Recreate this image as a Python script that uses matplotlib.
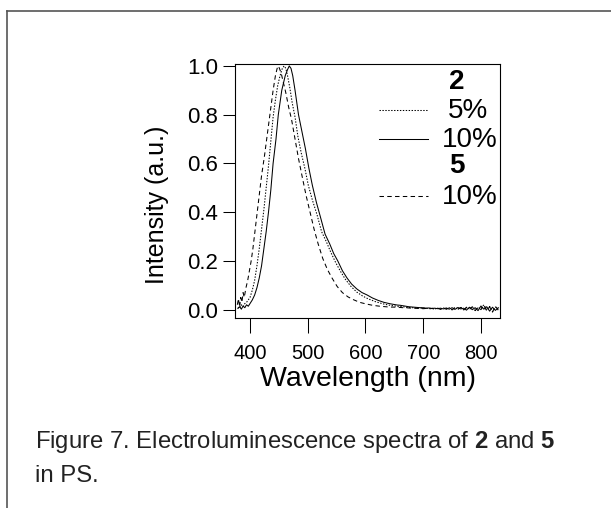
import matplotlib
matplotlib.use("Agg")
import matplotlib.pyplot as plt
from matplotlib.lines import Line2D

plt.rcParams['font.family'] = ['Liberation Sans', 'DejaVu Sans']
plt.rcParams['mathtext.fontset'] = 'custom'
plt.rcParams['mathtext.rm'] = 'Liberation Sans'
plt.rcParams['mathtext.bf'] = 'Liberation Sans:bold'
plt.rcParams['lines.scale_dashes'] = False

# compound 2, 10 % in PS (solid)
wl_2_10 = [379, 382, 385, 388, 391, 394, 397, 400, 404, 408, 412, 416, 420, 424, 428, 432,
           436, 440, 445, 449, 455, 461, 465, 468, 471, 474, 478, 484, 490, 496, 502, 508,
           515, 522, 530, 538, 545, 552, 560, 568, 576, 585, 594, 603, 612, 622, 632, 643, 655]
el_2_10 = [0.005, 0.012, 0.002, 0.015, 0.008, 0.020, 0.014, 0.025, 0.04, 0.06, 0.09, 0.13,
           0.18, 0.25, 0.32, 0.40, 0.49, 0.60, 0.70, 0.80, 0.90, 0.96, 0.985, 1.0, 0.99, 0.96,
           0.90, 0.80, 0.73, 0.66, 0.58, 0.51, 0.44, 0.38, 0.31, 0.27, 0.23, 0.20, 0.16, 0.13,
           0.105, 0.085, 0.07, 0.06, 0.048, 0.038, 0.03, 0.024, 0.019]

# compound 2, 5 % in PS (dotted)
wl_2_5 = [379, 382, 385, 388, 391, 394, 397, 400, 404, 408, 412, 416, 420, 424, 428, 432,
          436, 440, 444, 448, 452, 456, 459, 462, 465, 469, 473, 478, 483, 489, 495, 501,
          508, 516, 524, 532, 540, 548, 556, 565, 575, 585, 595, 605, 617, 630, 642, 655]
el_2_5 = [0.01, 0.005, 0.02, 0.012, 0.025, 0.03, 0.04, 0.05, 0.08, 0.12, 0.18, 0.25, 0.33,
          0.41, 0.50, 0.59, 0.69, 0.79, 0.86, 0.92, 0.96, 0.99, 1.0, 0.99, 0.96, 0.91, 0.85,
          0.79, 0.71, 0.64, 0.58, 0.51, 0.45, 0.39, 0.32, 0.28, 0.235, 0.195, 0.16, 0.125,
          0.095, 0.072, 0.056, 0.044, 0.033, 0.024, 0.018, 0.014]

# compound 5, 10 % in PS (dashed)
wl_5_10 = [378, 380, 382, 384, 386, 388, 390, 393, 396, 399, 402, 405, 408, 412, 416, 420,
           425, 430, 435, 440, 444, 447, 449, 451, 454, 458, 462, 467, 472, 478, 484, 490,
           497, 504, 511, 518, 526, 534, 542, 551, 560, 570, 580, 590, 600, 612, 625, 640, 655]
el_5_10 = [0.02, 0.045, 0.01, 0.05, 0.03, 0.07, 0.05, 0.09, 0.12, 0.16, 0.2, 0.25, 0.31,
           0.39, 0.47, 0.55, 0.63, 0.72, 0.81, 0.90, 0.96, 0.99, 1.0, 0.99, 0.97, 0.93, 0.89,
           0.83, 0.78, 0.70, 0.62, 0.55, 0.47, 0.40, 0.33, 0.27, 0.21, 0.165, 0.13, 0.095,
           0.07, 0.052, 0.04, 0.03, 0.024, 0.018, 0.014, 0.011, 0.01]

# noisy long-wavelength tails
wl_tail = [660, 665, 670, 675, 680, 685, 690, 695, 700, 705, 710, 715, 720, 725, 730, 735,
           740, 745, 750, 755, 760, 765, 770, 775, 780, 785, 790, 795, 800, 805, 810, 815,
           820, 825, 830]
tail_2_10 = [0.018, 0.016, 0.014, 0.012, 0.011, 0.010, 0.009, 0.008, 0.008, 0.006, 0.007,
             0.005, 0.006, 0.004, 0.006, 0.003, 0.007, 0.002, 0.008, 0.001, 0.009, 0.003,
             0.006, -0.002, 0.010, 0.000, 0.008, -0.004, 0.015, 0.002, 0.012, -0.006, 0.010,
             -0.003, 0.008]
tail_2_5 = [0.013, 0.012, 0.010, 0.009, 0.008, 0.008, 0.006, 0.007, 0.005, 0.006, 0.004,
            0.006, 0.003, 0.006, 0.002, 0.007, 0.003, 0.008, 0.000, 0.009, 0.002, 0.010,
            -0.001, 0.008, 0.003, 0.011, -0.003, 0.009, 0.004, 0.020, -0.002, 0.013, -0.008,
            0.011, 0.002]
tail_5_10 = [0.009, 0.008, 0.008, 0.007, 0.006, 0.006, 0.005, 0.005, 0.004, 0.005, 0.003,
             0.005, 0.002, 0.006, 0.001, 0.006, 0.002, 0.007, -0.001, 0.008, 0.001, 0.009,
             -0.002, 0.010, 0.001, 0.012, -0.004, 0.010, 0.000, 0.018, -0.005, 0.012, -0.010,
             0.014, -0.002]

xticks = [400, 500, 600, 700, 800]
yticks = [0.0, 0.2, 0.4, 0.6, 0.8, 1.0]

W, H = 611, 508
fig = plt.figure(figsize=(W / 100, H / 100), dpi=100)
fig.patch.set_facecolor('white')

# page frame (top and left rules)
fig.add_artist(Line2D([7 / W, 1.0], [1 - 11 / H, 1 - 11 / H], color='#555555', lw=1.2))
fig.add_artist(Line2D([7 / W, 7 / W], [1 - 11 / H, 0.0], color='#555555', lw=1.2))

ax = fig.add_axes([235 / W, 1 - 317.7 / H, 265 / W, 253.7 / H])

dot = (0, (1.0, 1.1))
dash = (0, (3.2, 2.4))
lw = 0.75
ax.plot(wl_2_5 + wl_tail, el_2_5 + tail_2_5, color='black', lw=lw, ls=dot)
ax.plot(wl_5_10 + wl_tail, el_5_10 + tail_5_10, color='black', lw=lw, ls=dash)
ax.plot(wl_2_10 + wl_tail, el_2_10 + tail_2_10, color='black', lw=lw, ls='-')

ax.set_xlim(374, 833)
ax.set_ylim(-0.033, 1.008)
ax.set_xticks(xticks)
ax.set_yticks(yticks)
ax.set_yticklabels([f'{v:.1f}' for v in yticks])
for s in ax.spines.values():
    s.set_linewidth(0.8)
ax.tick_params(axis='x', direction='out', length=10.8, width=0.75, pad=8, labelsize=14.5)
ax.tick_params(axis='y', direction='out', length=8.4, width=0.75, pad=4, labelsize=16)

fig.text(157 / W, 1 - 205 / H, 'Intensity (a.u.)', rotation=90, ha='center', va='center',
         fontsize=18)
fig.text(367.5 / W, 1 - 386 / H, 'Wavelength (nm)', ha='center', va='baseline',
         fontsize=20.5)

# key drawn inside the plot
ax.text(758, 0.935, '2', fontsize=20, fontweight='bold', ha='center', va='center')
ax.plot([623, 708], [0.82, 0.82], color='black', lw=lw, ls=dot)
ax.text(777, 0.815, '5%', fontsize=20, ha='center', va='center')
ax.plot([623, 708], [0.70, 0.70], color='black', lw=lw, ls='-')
ax.text(780, 0.695, '10%', fontsize=20, ha='center', va='center')
ax.text(758, 0.59, '5', fontsize=20, fontweight='bold', ha='center', va='center')
ax.plot([623, 708], [0.467, 0.467], color='black', lw=lw, ls=dash)
ax.text(780, 0.462, '10%', fontsize=20, ha='center', va='center')

cap = dict(ha='left', va='baseline', fontsize=17.2, color='#222222')
fig.text(35 / W, 1 - 448 / H,
         r'Figure 7. Electroluminescence spectra of $\mathbf{2}$ and $\mathbf{5}$', **cap)
fig.text(35 / W, 1 - 482 / H, 'in PS.', **cap)

fig.savefig('out.png', dpi=100)
